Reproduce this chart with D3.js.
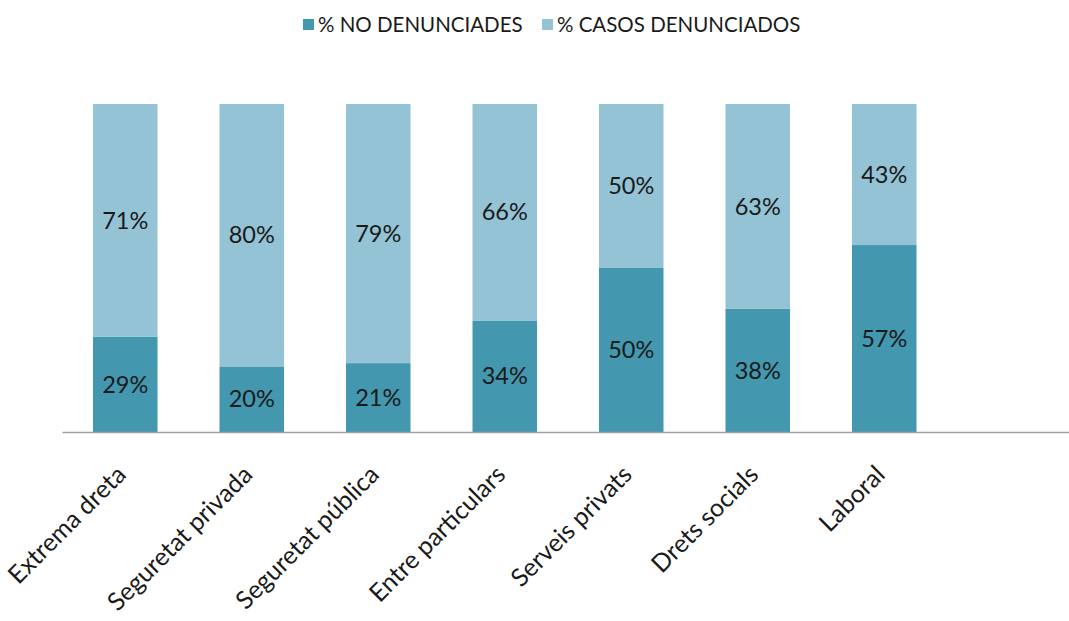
<!DOCTYPE html>
<html>
<head>
<meta charset="utf-8">
<script src="https://cdn.jsdelivr.net/npm/d3@7"></script>
<style>
  body { margin: 0; background: #fff; }
  text { font-family: Lato, "Open Sans", sans-serif; fill: #1a1a1a; }
</style>
</head>
<body>
<div id="chart"></div>
<script>
var svgWidth = 1069;
var svgHeight = 621;

var margin = { top: 104, right: -5, bottom: 189, left: 62 };
var width = svgWidth - margin.left - margin.right;
var height = svgHeight - margin.top - margin.bottom;

// data
var categories = ["Extrema dreta", "Seguretat privada", "Seguretat pública", "Entre particulars",
                  "Serveis privats", "Drets socials", "Laboral", ""];
var noDenunciades = [29, 20, 21, 34, 50, 38, 57];
var casosDenunciados = [71, 80, 79, 66, 50, 63, 43];
var seriesNames = ["% NO DENUNCIADES", "% CASOS DENUNCIADOS"];
var colors = ["#4397ae", "#93c3d4"];

var svg = d3.select("#chart").append("svg")
    .attr("width", svgWidth)
    .attr("height", svgHeight);

var chartGroup = svg.append("g")
    .attr("transform", `translate(${margin.left}, ${margin.top})`);

var xScale = d3.scaleBand()
    .domain(categories)
    .range([0, width])
    .paddingInner(0.49)
    .paddingOuter(0.245);

var yScale = d3.scaleLinear()
    .domain([0, 1])
    .range([height, 0]);

// 100% stacked: shares of each bar, labels keep the read values
var rows = noDenunciades.map((v, i) => ({ cat: categories[i], no: v, si: casosDenunciados[i] }));
var stack = d3.stack().keys(["no", "si"]).offset(d3.stackOffsetExpand);
var layers = stack(rows);

var layerGroups = chartGroup.selectAll(".layer")
    .data(layers)
    .enter()
    .append("g")
    .attr("fill", (d, i) => colors[i]);

layerGroups.selectAll("rect")
    .data(d => d)
    .enter()
    .append("rect")
    .attr("x", d => xScale(d.data.cat))
    .attr("y", d => yScale(d[1]))
    .attr("width", xScale.bandwidth())
    .attr("height", d => yScale(d[0]) - yScale(d[1]));

layerGroups.each(function(layer) {
    d3.select(this).selectAll("text")
        .data(layer)
        .enter()
        .append("text")
        .attr("x", d => xScale(d.data.cat) + xScale.bandwidth() / 2)
        .attr("y", d => yScale((d[0] + d[1]) / 2))
        .attr("dy", "0.35em")
        .attr("text-anchor", "middle")
        .style("font-size", "23.5px")
        .text(d => d.data[layer.key] + "%");
});

// x axis
var xAxis = chartGroup.append("g")
    .attr("transform", `translate(0,${height})`)
    .call(d3.axisBottom(xScale).tickSize(0).tickPadding(0));

xAxis.select(".domain").attr("stroke", "#a0a0a0").attr("stroke-width", 1.5);

xAxis.selectAll(".tick text")
    .attr("text-anchor", "end")
    .attr("transform", "translate(-4,38) rotate(-45)")
    .attr("dy", "0.35em")
    .attr("y", 0)
    .style("font-size", "25px")
    .style("fill", "#1a1a1a")
    .style("font-family", "Lato, 'Open Sans', sans-serif");

// legend
var legendX = [303, 542];
var legend = svg.append("g");
seriesNames.forEach(function(name, i) {
    legend.append("rect")
        .attr("x", legendX[i])
        .attr("y", 19)
        .attr("width", 11)
        .attr("height", 11)
        .attr("fill", colors[i]);
    legend.append("text")
        .attr("x", legendX[i] + 15)
        .attr("y", 25)
        .attr("dy", "0.35em")
        .style("font-size", "20.5px")
        .text(name);
});
</script>
</body>
</html>
